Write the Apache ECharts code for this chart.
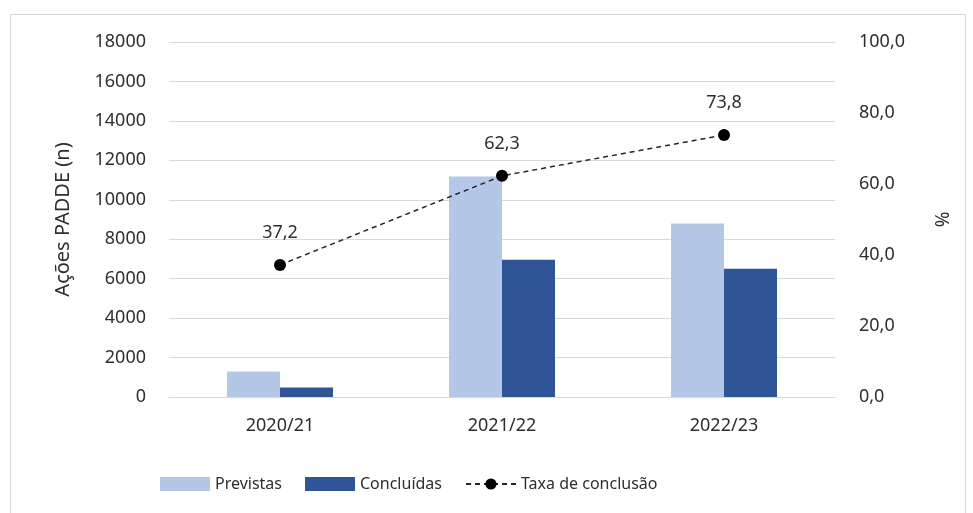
<!DOCTYPE html>
<html>
<head>
<meta charset="utf-8">
<script src="https://cdn.jsdelivr.net/npm/echarts@6/dist/echarts.min.js"></script>
<style>
  html, body { margin: 0; padding: 0; background: #fff; }
  #chart { width: 973px; height: 513px; }
</style>
</head>
<body>
<div id="chart"></div>
<script>
  const categories = ["2020/21", "2021/22", "2022/23"];
  const previstas = [1290, 11180, 8800];
  const concluidas = [480, 6960, 6500];
  const taxa = [37.2, 62.3, 73.8];

  const font = "'Noto Sans', sans-serif";
  const textColor = "#2e2e2e";
  const comma = (v) => v.toFixed(1).replace(".", ",");

  const chart = echarts.init(document.getElementById("chart"), null, { renderer: "canvas" });

  chart.setOption({
    backgroundColor: "#fff",
    animation: false,
    textStyle: { fontFamily: font },
    graphic: [
      {
        type: "rect",
        shape: { x: 10.5, y: 14.5, width: 955, height: 510 },
        style: { fill: "none", stroke: "#d9d9d9", lineWidth: 1 },
        silent: true,
      },
    ],
    grid: { left: 169, right: 138, top: 42, bottom: 116 },
    legend: {
      bottom: 16,
      left: 155,
      itemWidth: 50,
      itemHeight: 14,
      itemGap: 23,
      textStyle: { fontFamily: font, fontSize: 16, color: textColor },
      data: [
        { name: "Previstas", icon: "rect" },
        { name: "Concluídas", icon: "rect" },
        { name: "Taxa de conclusão" },
      ],
    },
    xAxis: {
      type: "category",
      data: categories,
      axisLine: { lineStyle: { color: "#d9d9d9" } },
      axisTick: { show: false },
      axisLabel: { fontFamily: font, fontSize: 18, color: textColor, margin: 20 },
    },
    yAxis: [
      {
        type: "value",
        min: 0,
        max: 18000,
        interval: 2000,
        name: "Ações PADDE (n)",
        nameLocation: "middle",
        nameGap: 96,
        nameTextStyle: { fontFamily: font, fontSize: 20, color: textColor },
        axisLine: { show: false },
        axisTick: { show: false },
        axisLabel: {
          fontFamily: font,
          fontSize: 18,
          color: textColor,
          margin: 23,
          formatter: (v) => String(v),
        },
        splitLine: { lineStyle: { color: "#d9d9d9" } },
      },
      {
        type: "value",
        min: 0,
        max: 100,
        interval: 20,
        name: "%",
        nameLocation: "middle",
        nameGap: 96,
        nameRotate: -90,
        nameTextStyle: { fontFamily: font, fontSize: 19, color: textColor },
        axisLine: { show: false },
        axisTick: { show: false },
        splitLine: { show: false },
        axisLabel: {
          fontFamily: font,
          fontSize: 18,
          color: textColor,
          margin: 24,
          formatter: comma,
        },
      },
    ],
    series: [
      {
        name: "Previstas",
        type: "bar",
        data: previstas,
        barWidth: 53,
        barGap: "0%",
        itemStyle: { color: "#b4c7e7" },
      },
      {
        name: "Concluídas",
        type: "bar",
        data: concluidas,
        barWidth: 53,
        barGap: "0%",
        itemStyle: { color: "#2f5597" },
      },
      {
        name: "Taxa de conclusão",
        type: "line",
        yAxisIndex: 1,
        data: taxa,
        symbol: "circle",
        symbolSize: 12,
        lineStyle: { color: "#262626", width: 1.5, type: [5, 4] },
        itemStyle: { color: "#000" },
        label: {
          show: true,
          position: "top",
          distance: 17,
          fontFamily: font,
          fontSize: 18,
          color: textColor,
          formatter: (p) => comma(p.value),
        },
      },
    ],
  });
</script>
</body>
</html>
